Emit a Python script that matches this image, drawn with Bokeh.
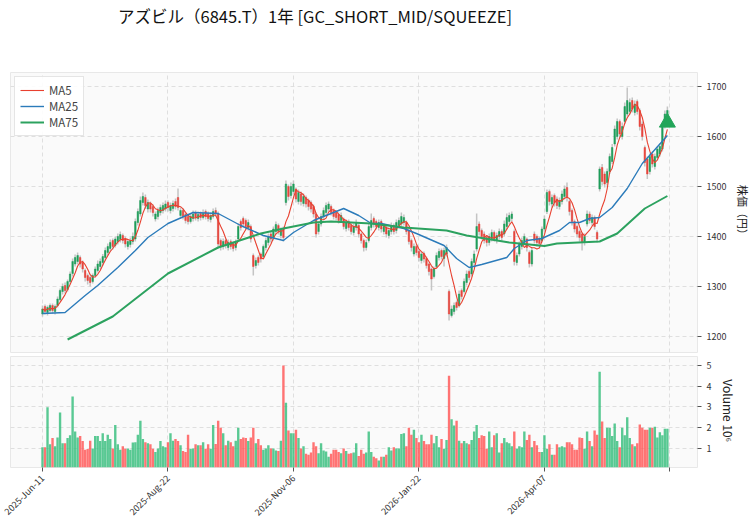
from math import pi
import pandas as pd
from bokeh.plotting import figure
from bokeh.models import ColumnDataSource, FixedTicker, Range1d, Legend, LegendItem, Div
from bokeh.layouts import column
from bokeh.embed import file_html
from bokeh.resources import INLINE

title_text = "アズビル（6845.T）1年 [GC_SHORT_MID/SQUEEZE]"
tick_idx = [0, 50, 100, 150, 200, 250]
tick_labels = ["2025-Jun-11", "2025-Aug-22", "2025-Nov-06", "2026-Jan-22", "2026-Apr-07", ""]

opens = [
    1245, 1260, 1248, 1252, 1262, 1250, 1262, 1274, 1290, 1302,
    1294, 1310, 1326, 1345, 1350, 1358, 1348, 1332, 1322, 1318,
    1310, 1322, 1332, 1340, 1348, 1358, 1368, 1376, 1392, 1382,
    1390, 1394, 1402, 1396, 1380, 1384, 1390, 1395, 1428, 1445,
    1468, 1478, 1455, 1466, 1460, 1435, 1440, 1448, 1452, 1455,
    1468, 1452, 1456, 1470, 1478, 1442, 1452, 1444, 1440, 1430,
    1436, 1448, 1436, 1446, 1438, 1450, 1446, 1434, 1440, 1452,
    1446, 1392, 1380, 1392, 1378, 1390, 1386, 1378, 1395, 1430,
    1436, 1432, 1418, 1420, 1362, 1342, 1358, 1365, 1360, 1378,
    1388, 1405, 1398, 1410, 1422, 1402, 1416, 1468, 1500, 1482,
    1490, 1495, 1470, 1485, 1466, 1478, 1472, 1468, 1460, 1445,
    1410, 1425, 1440, 1448, 1455, 1460, 1452, 1448, 1444, 1432,
    1435, 1416, 1430, 1422, 1408, 1418, 1422, 1405, 1392, 1378,
    1392, 1418, 1436, 1430, 1418, 1430, 1410, 1418, 1402, 1410,
    1422, 1412, 1422, 1425, 1428, 1428, 1412, 1392, 1365, 1380,
    1370, 1352, 1366, 1356, 1345, 1335, 1320, 1340, 1358, 1372,
    1356, 1365, 1290, 1242, 1250, 1268, 1262, 1292, 1290, 1308,
    1330, 1325, 1348, 1375, 1425, 1412, 1405, 1398, 1388, 1396,
    1408, 1392, 1400, 1410, 1405, 1420, 1430, 1436, 1410, 1348,
    1365, 1380, 1388, 1395, 1368, 1345, 1405, 1400, 1396, 1392,
    1415, 1450, 1490, 1465, 1482, 1475, 1460, 1470, 1480, 1498,
    1470, 1452, 1430, 1420, 1410, 1405, 1388, 1425, 1445, 1428,
    1438, 1408, 1495, 1538, 1525, 1508, 1530, 1550, 1585, 1600,
    1630, 1600, 1630, 1645, 1650, 1672, 1648, 1670, 1652, 1625,
    1578, 1555, 1530, 1565, 1540, 1558, 1565, 1575, 1622, 1640,
]
closes = [
    1255, 1250, 1258, 1262, 1252, 1260, 1275, 1292, 1300, 1292,
    1310, 1325, 1350, 1358, 1362, 1345, 1335, 1318, 1312, 1308,
    1322, 1335, 1345, 1350, 1360, 1372, 1380, 1388, 1380, 1395,
    1400, 1404, 1392, 1385, 1390, 1392, 1400, 1430, 1450, 1472,
    1480, 1462, 1468, 1455, 1448, 1445, 1452, 1458, 1462, 1465,
    1458, 1462, 1466, 1460, 1458, 1452, 1440, 1432, 1430, 1440,
    1445, 1438, 1444, 1438, 1446, 1440, 1436, 1442, 1450, 1445,
    1385, 1380, 1390, 1382, 1388, 1380, 1376, 1388, 1420, 1418,
    1425, 1420, 1428, 1395, 1340, 1352, 1348, 1355, 1380, 1392,
    1400, 1395, 1415, 1424, 1410, 1412, 1398, 1505, 1480, 1500,
    1505, 1475, 1488, 1470, 1480, 1465, 1460, 1455, 1445, 1405,
    1425, 1440, 1452, 1462, 1465, 1448, 1440, 1438, 1432, 1442,
    1420, 1428, 1418, 1410, 1420, 1428, 1405, 1392, 1378, 1388,
    1420, 1432, 1425, 1420, 1428, 1415, 1420, 1405, 1412, 1422,
    1410, 1428, 1432, 1440, 1438, 1410, 1390, 1378, 1380, 1368,
    1358, 1365, 1355, 1342, 1330, 1315, 1335, 1362, 1370, 1360,
    1372, 1378, 1245, 1255, 1262, 1258, 1285, 1280, 1310, 1325,
    1318, 1350, 1365, 1420, 1410, 1400, 1392, 1388, 1400, 1408,
    1396, 1402, 1410, 1398, 1425, 1438, 1442, 1445, 1350, 1362,
    1385, 1392, 1400, 1378, 1346, 1372, 1392, 1388, 1386, 1415,
    1435, 1488, 1470, 1478, 1468, 1462, 1472, 1485, 1495, 1478,
    1450, 1430, 1415, 1405, 1398, 1388, 1400, 1445, 1432, 1438,
    1420, 1395, 1535, 1510, 1505, 1530, 1560, 1578, 1615, 1630,
    1605, 1620, 1660, 1672, 1668, 1655, 1665, 1650, 1620, 1600,
    1548, 1525, 1560, 1545, 1560, 1575, 1580, 1620, 1645, 1652,
]
highs = [
    1262, 1264, 1262, 1266, 1266, 1264, 1280, 1296, 1306, 1308,
    1314, 1330, 1356, 1364, 1368, 1362, 1352, 1336, 1326, 1322,
    1326, 1340, 1352, 1356, 1365, 1378, 1386, 1394, 1396, 1400,
    1406, 1410, 1406, 1400, 1394, 1398, 1408, 1436, 1456, 1480,
    1488, 1484, 1474, 1470, 1464, 1450, 1458, 1464, 1468, 1472,
    1472, 1468, 1472, 1476, 1496, 1458, 1456, 1448, 1444, 1446,
    1452, 1452, 1450, 1450, 1454, 1454, 1450, 1448, 1456, 1458,
    1450, 1396, 1396, 1396, 1394, 1394, 1390, 1394, 1426, 1434,
    1440, 1436, 1434, 1424, 1366, 1358, 1362, 1368, 1384, 1398,
    1406, 1410, 1420, 1430, 1426, 1418, 1420, 1512, 1504, 1508,
    1512, 1498, 1494, 1490, 1486, 1482, 1476, 1472, 1464, 1448,
    1430, 1446, 1458, 1468, 1470, 1464, 1456, 1452, 1448, 1448,
    1438, 1434, 1434, 1426, 1426, 1434, 1426, 1408, 1396, 1394,
    1426, 1446, 1440, 1434, 1434, 1434, 1426, 1422, 1418, 1428,
    1426, 1434, 1438, 1448, 1444, 1432, 1416, 1396, 1386, 1384,
    1374, 1370, 1370, 1360, 1348, 1338, 1340, 1368, 1376, 1376,
    1378, 1384, 1294, 1262, 1268, 1272, 1292, 1296, 1316, 1332,
    1334, 1356, 1372, 1446, 1430, 1416, 1410, 1402, 1406, 1414,
    1412, 1408, 1416, 1414, 1432, 1446, 1448, 1450, 1414, 1368,
    1390, 1398, 1406, 1398, 1372, 1378, 1410, 1404, 1400, 1420,
    1442, 1494, 1494, 1484, 1486, 1480, 1478, 1492, 1502, 1508,
    1474, 1456, 1434, 1424, 1414, 1408, 1406, 1452, 1450, 1444,
    1442, 1412, 1540, 1545, 1530, 1536, 1566, 1585, 1622, 1636,
    1634, 1628, 1668, 1698, 1676, 1678, 1672, 1674, 1656, 1630,
    1582, 1560, 1566, 1570, 1566, 1580, 1586, 1626, 1652, 1660,
]
lows = [
    1240, 1244, 1242, 1248, 1246, 1244, 1258, 1270, 1284, 1286,
    1290, 1305, 1320, 1340, 1344, 1338, 1328, 1310, 1304, 1300,
    1306, 1318, 1328, 1334, 1342, 1352, 1362, 1370, 1374, 1378,
    1384, 1388, 1386, 1378, 1374, 1378, 1384, 1390, 1422, 1440,
    1462, 1455, 1448, 1448, 1440, 1430, 1434, 1442, 1446, 1450,
    1450, 1446, 1450, 1454, 1452, 1436, 1434, 1426, 1424, 1426,
    1430, 1432, 1430, 1432, 1434, 1434, 1430, 1428, 1436, 1440,
    1376, 1372, 1374, 1376, 1372, 1374, 1370, 1372, 1390, 1412,
    1418, 1414, 1412, 1388, 1322, 1336, 1342, 1348, 1356, 1372,
    1382, 1388, 1392, 1404, 1404, 1396, 1390, 1462, 1472, 1476,
    1484, 1468, 1464, 1462, 1460, 1458, 1452, 1448, 1438, 1398,
    1404, 1420, 1434, 1442, 1450, 1442, 1434, 1432, 1426, 1428,
    1414, 1410, 1412, 1404, 1402, 1412, 1398, 1386, 1370, 1372,
    1388, 1412, 1418, 1414, 1412, 1408, 1404, 1398, 1396, 1404,
    1404, 1406, 1416, 1420, 1422, 1404, 1384, 1370, 1360, 1362,
    1350, 1346, 1348, 1336, 1322, 1292, 1316, 1336, 1352, 1354,
    1340, 1360, 1232, 1238, 1244, 1252, 1258, 1274, 1286, 1302,
    1312, 1320, 1342, 1370, 1402, 1394, 1386, 1380, 1382, 1390,
    1390, 1386, 1394, 1392, 1400, 1414, 1424, 1430, 1342, 1342,
    1360, 1374, 1382, 1370, 1338, 1340, 1386, 1380, 1378, 1388,
    1410, 1445, 1462, 1458, 1460, 1455, 1454, 1464, 1474, 1470,
    1442, 1422, 1408, 1398, 1390, 1372, 1382, 1420, 1426, 1422,
    1414, 1388, 1490, 1502, 1498, 1502, 1525, 1545, 1580, 1594,
    1598, 1594, 1625, 1640, 1644, 1648, 1642, 1644, 1612, 1592,
    1540, 1515, 1524, 1538, 1534, 1552, 1560, 1570, 1616, 1634,
]
volumes_m = [
    1.05, 1.05, 2.98, 1.2, 1.5, 1.1, 1.53, 2.73, 1.25, 1.25,
    1.5, 1.63, 3.5, 1.82, 1.53, 1.6, 1.36, 0.93, 0.97, 1.37,
    1.0, 1.6, 1.6, 1.36, 1.73, 1.36, 1.66, 1.45, 1.0, 2.13,
    1.2, 0.93, 1.1, 0.98, 1.0, 0.93, 1.28, 1.3, 1.66, 2.33,
    1.45, 1.3, 1.25, 1.2, 0.98, 0.83, 1.0, 1.36, 1.1, 1.05,
    1.3, 1.73, 1.37, 1.45, 1.36, 1.15, 0.87, 0.83, 1.66, 0.98,
    1.0, 1.2, 1.15, 1.15, 1.3, 0.98, 1.2, 0.98, 2.13, 1.21,
    2.33, 2.0, 1.73, 1.15, 1.37, 1.3, 1.1, 1.37, 2.0, 1.45,
    1.53, 1.5, 1.36, 1.53, 2.0, 1.25, 1.45, 1.15, 0.93, 1.0,
    1.15, 1.0, 1.0, 0.9, 0.87, 1.37, 5.0, 3.2, 1.86, 1.73,
    1.73, 1.9, 1.5, 1.0, 1.1, 0.74, 0.7, 0.8, 1.3, 1.1,
    0.77, 1.25, 0.9, 0.85, 0.6, 0.74, 0.93, 0.93, 0.83, 0.77,
    1.0, 0.87, 0.74, 0.77, 0.8, 1.25, 0.64, 0.93, 0.74, 0.8,
    1.82, 0.83, 0.6, 0.53, 0.42, 0.6, 0.6, 0.7, 1.05, 0.9,
    1.05, 1.0, 1.0, 1.7, 1.73, 1.1, 2.0, 1.66, 1.9, 1.5,
    1.3, 1.66, 1.36, 1.2, 1.2, 1.66, 1.25, 1.6, 1.05, 1.45,
    0.98, 1.4, 4.5, 2.4, 2.1, 2.33, 1.37, 1.25, 1.36, 1.25,
    1.2, 1.4, 1.82, 2.13, 1.5, 1.63, 1.6, 0.98, 1.82, 1.05,
    1.63, 1.73, 0.8, 1.25, 1.5, 1.3, 1.25, 1.1, 1.82, 0.98,
    1.1, 1.05, 1.82, 1.4, 1.66, 1.05, 1.36, 1.15, 0.83, 0.83,
    1.63, 0.98, 1.2, 0.7, 0.7, 1.2, 1.05, 1.1, 1.05, 1.3,
    1.3, 1.2, 0.93, 0.93, 1.53, 1.5, 0.98, 1.82, 1.36, 1.1,
    1.86, 1.66, 4.7, 2.3, 1.5, 2.0, 2.0, 1.6, 2.2, 1.36,
    1.05, 2.0, 1.63, 2.5, 1.5, 1.2, 1.1, 1.25, 2.15, 2.0,
    1.9, 1.9, 2.0, 2.0, 2.05, 1.53, 1.78, 1.63, 1.95, 1.95,
]
ma25_idx = [0, 9, 17, 22, 30, 37, 42, 50, 60, 70, 79, 88, 96, 100, 108, 116, 120, 126, 131, 135,
            144, 149, 160, 165, 170, 175, 185, 188, 193, 199, 206, 210, 214, 218, 222, 227, 233, 239, 243, 249]
ma25_val = [1246, 1248, 1282, 1302, 1338, 1372, 1398, 1426, 1448, 1446, 1422, 1402, 1392, 1408, 1432, 1448, 1456, 1442, 1426, 1426,
            1416, 1406, 1382, 1356, 1338, 1344, 1358, 1376, 1392, 1396, 1412, 1428, 1428, 1436, 1438, 1458, 1496, 1546, 1568, 1602]
ma75_idx = [10, 28, 50, 70, 87, 96, 108, 115, 131, 144, 161, 169, 186, 200, 205, 222, 229, 240, 249]
ma75_val = [1194, 1240, 1326, 1378, 1406, 1416, 1428, 1430, 1426, 1418, 1412, 1402, 1388, 1381, 1386, 1390, 1406, 1456, 1481]
signal_idx = 249
signal_price = 1628

FONT = "Noto Sans CJK JP"
UP, DOWN = "#1f9e5a", "#e8453c"
VUP, VDOWN = "#3cbf80", "#ff5a5a"

n = len(closes)
idx = list(range(n))
is_up = [c >= o for o, c in zip(opens, closes)]
src = ColumnDataSource(dict(
    x=idx, o=opens, c=closes, h=highs, l=lows,
    top=[max(o, c) for o, c in zip(opens, closes)],
    bot=[min(o, c) for o, c in zip(opens, closes)],
    col=[UP if u else DOWN for u in is_up],
    vcol=[VUP if u else VDOWN for u in is_up],
    vol=volumes_m,
    ma5=pd.Series(closes, dtype=float).rolling(5, min_periods=1).mean().tolist(),
))

xr = Range1d(-12.75, 261)


def style(fig):
    fig.background_fill_color = "#fafafa"
    fig.border_fill_color = "white"
    fig.outline_line_color = "#e8e8e8"
    for g in (fig.xgrid, fig.ygrid):
        g.grid_line_color = "#d8d8d8"
        g.grid_line_dash = "4 3"
        g.grid_line_width = 0.8
    fig.xgrid.ticker = FixedTicker(ticks=tick_idx)
    for ax in fig.yaxis:
        ax.axis_line_color = None
        ax.major_tick_line_color = "#555555"
        ax.major_tick_out = 4
        ax.major_tick_in = 0
        ax.minor_tick_line_color = None
        ax.major_label_text_font = FONT
        ax.major_label_text_font_size = "9px"
        ax.major_label_text_color = "#333333"
        ax.axis_label_text_font = FONT
        ax.axis_label_text_font_size = "11px"
        ax.axis_label_text_font_style = "normal"
        ax.axis_label_text_color = "#222222"
        ax.axis_label_standoff = 6


title_div = Div(
    text=title_text, width=752, height=40, margin=0,
    styles={"font-family": "'Noto Sans CJK JP'", "font-size": "16.5px", "color": "#111111",
            "padding-left": "118px", "padding-top": "5px", "line-height": "22px",
            "box-sizing": "border-box", "white-space": "nowrap"},
)

p = figure(frame_width=687, frame_height=280, x_range=xr, y_range=Range1d(1168, 1728),
           y_axis_location="right", output_backend="svg", toolbar_location=None,
           min_border_left=10, min_border_top=32, min_border_bottom=2, min_border_right=10)
style(p)
p.xaxis.visible = False
p.yaxis.ticker = FixedTicker(ticks=[1200, 1300, 1400, 1500, 1600, 1700])
p.yaxis.axis_label = "株価（円）"

p.segment(x0="x", y0="l", x1="x", y1="h", source=src, line_color="#c4c4c4", line_width=1.5)
p.vbar(x="x", width=0.6, top="top", bottom="bot", source=src, fill_color="col", line_color="col", line_width=0.5)
r5 = p.line("x", "ma5", source=src, line_color="#e8402f", line_width=1.1)
r25 = p.line(ma25_idx, ma25_val, line_color="#2b7bba", line_width=1.4)
r75 = p.line(ma75_idx, ma75_val, line_color="#2ca25f", line_width=2)
p.scatter([signal_idx], [signal_price], marker="triangle", size=16, fill_color="#22a559", line_color="#22a559")

leg = Legend(items=[LegendItem(label="MA5", renderers=[r5]),
                    LegendItem(label="MA25", renderers=[r25]),
                    LegendItem(label="MA75", renderers=[r75])],
             location="top_left")
leg.label_text_font = FONT
leg.label_text_font_size = "11.5px"
leg.glyph_width = 24
leg.glyph_height = 14
leg.spacing = 0
leg.padding = 5
leg.margin = 4
leg.border_line_color = "#cccccc"
leg.background_fill_alpha = 0.9
p.add_layout(leg)

v = figure(frame_width=687, frame_height=111, x_range=xr, y_range=Range1d(0.08, 5.43),
           y_axis_location="right", output_backend="svg", toolbar_location=None,
           min_border_left=10, min_border_top=2, min_border_right=10)
style(v)
v.yaxis.ticker = FixedTicker(ticks=[1, 2, 3, 4, 5])
v.yaxis.axis_label = "Volume  10⁶"
v.yaxis.axis_label_text_font_size = "12px"
v.vbar(x="x", width=0.95, top="vol", bottom=0, source=src, fill_color="vcol", line_color=None, fill_alpha=0.85)
v.xaxis.ticker = FixedTicker(ticks=tick_idx)
v.xaxis.major_label_overrides = {t: lab for t, lab in zip(tick_idx, tick_labels)}
v.xaxis.major_label_orientation = pi / 4
v.xaxis.major_label_text_font = FONT
v.xaxis.major_label_text_font_size = "9px"
v.xaxis.major_label_text_color = "#333333"
v.xaxis.axis_line_color = None
v.xaxis.major_tick_line_color = "#555555"
v.xaxis.major_tick_out = 4
v.xaxis.major_tick_in = 0
v.xaxis.minor_tick_line_color = None

layout = column(title_div, p, v, spacing=0)
open("out.html", "w").write(file_html(layout, INLINE))
